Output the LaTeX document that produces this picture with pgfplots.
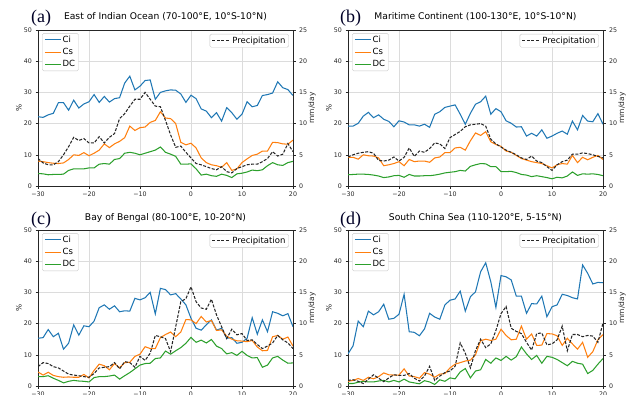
\documentclass[border=0pt]{standalone}
\usepackage{fontspec}
\setmainfont{DejaVu Sans}
\newfontfamily\serifpanel{Liberation Serif}
\usepackage{pgfplots}
\usepackage{pgfplotstable}
\pgfplotsset{compat=1.18}
\definecolor{mplblue}{HTML}{1F77B4}
\definecolor{mplorange}{HTML}{FF7F0E}
\definecolor{mplgreen}{HTML}{2CA02C}
\definecolor{gridc}{HTML}{DCDCDC}
\definecolor{tickc}{HTML}{262626}

\pgfplotstableread{
x ci cs dc pr
-30 22.2 8.0 4.0 4.4
-29 22.0 7.8 3.9 3.7
-28 22.8 7.5 3.6 3.4
-27 23.3 7.3 3.7 3.4
-26 26.7 7.2 3.7 3.9
-25 26.7 7.4 3.8 5.0
-24 24.3 8.5 5.0 6.3
-23 27.5 10.0 5.5 7.8
-22 25.0 9.8 5.5 7.3
-21 26.3 10.7 5.5 7.6
-20 27.0 9.7 5.8 6.9
-19 29.3 10.5 5.8 6.9
-18 26.8 11.5 7.0 7.9
-17 28.7 13.5 7.2 6.9
-16 26.9 12.3 7.0 7.8
-15 28.0 13.5 8.5 8.4
-14 28.3 14.3 8.8 10.8
-13 33.0 15.5 10.5 11.6
-12 35.2 19.2 10.8 12.8
-11 30.8 17.8 10.5 13.9
-10 32.0 18.7 10.0 13.9
-9 33.8 18.9 10.5 15.0
-8 34.0 20.4 11.0 13.9
-7 27.8 21.0 11.5 12.8
-6 30.0 23.8 12.5 12.7
-5 30.5 21.8 10.8 10.5
-4 30.8 21.6 10.2 8.2
-3 30.7 20.0 9.5 6.2
-2 29.5 14.0 7.0 6.4
-1 26.8 13.2 7.0 5.4
0 29.1 13.7 7.1 4.5
1 28.0 12.2 5.5 3.6
2 24.7 9.0 3.5 3.4
3 24.0 7.5 3.8 3.1
4 21.9 6.8 3.3 2.8
5 23.5 6.5 3.1 2.6
6 20.8 6.0 3.8 3.1
7 25.1 7.5 3.4 2.3
8 23.5 5.0 2.7 2.1
9 21.4 5.5 3.9 2.8
10 23.0 7.5 4.1 3.1
11 27.0 8.7 4.5 3.4
12 25.4 9.8 5.1 3.5
13 25.8 10.2 4.9 3.5
14 29.0 11.2 5.2 3.9
15 29.3 11.2 6.5 4.4
16 29.8 14.0 7.5 5.5
17 33.4 13.9 6.8 4.8
18 31.5 13.5 6.6 5.1
19 30.9 13.4 7.5 6.8
20 29.0 14.7 7.9 5.5
}\tabA

\pgfplotstableread{
x ci cs dc pr
-30 19.2 9.2 3.6 4.65
-29 19.2 9.2 3.7 5.0
-28 20.1 8.6 3.8 5.25
-27 22.4 10.0 3.8 5.4
-26 23.6 9.7 3.7 5.5
-25 21.9 9.6 3.5 5.25
-24 22.8 9.0 3.2 4.1
-23 21.4 6.5 2.7 4.0
-22 20.7 6.8 2.9 4.15
-21 19.0 7.2 3.3 4.65
-20 20.9 7.8 3.4 4.0
-19 20.5 6.5 2.8 4.6
-18 19.6 8.5 3.7 6.1
-17 19.6 7.8 3.2 4.75
-16 19.2 8.0 3.2 5.6
-15 19.8 8.0 3.3 5.4
-14 18.8 7.6 3.3 6.0
-13 23.0 9.0 3.5 6.9
-12 23.8 9.3 3.8 6.75
-11 25.2 10.7 4.2 6.0
-10 25.6 10.7 4.4 7.75
-9 26.0 12.2 4.6 8.25
-8 23.0 12.4 5.0 8.75
-7 19.8 11.5 4.8 9.5
-6 23.3 14.5 6.3 9.8
-5 26.2 17.0 6.8 9.9
-4 27.0 16.2 7.2 10.0
-3 28.8 17.4 7.1 9.6
-2 23.0 14.2 6.2 7.5
-1 24.8 13.3 6.2 6.75
0 23.8 12.7 4.6 6.25
1 20.9 11.2 4.6 5.75
2 20.1 10.8 4.7 5.4
3 18.9 9.8 4.3 5.0
4 19.0 8.8 3.7 4.5
5 16.0 8.3 3.5 4.25
6 16.9 7.8 3.0 4.8
7 16.0 7.5 3.3 4.0
8 18.0 7.2 3.0 3.75
9 15.3 6.5 2.7 3.1
10 16.0 5.8 2.3 2.5
11 16.9 6.8 2.8 3.4
12 17.6 7.2 2.6 3.9
13 16.6 7.0 3.2 4.15
14 20.8 9.8 4.5 5.1
15 18.0 7.5 3.4 5.1
16 22.6 9.2 3.9 5.3
17 20.8 8.4 3.8 5.2
18 20.6 9.2 3.9 5.0
19 23.2 9.8 3.7 4.75
20 19.8 8.5 3.3 4.5
}\tabB

\pgfplotstableread{
x ci cs dc pr
-30 15.3 4.5 3.0 3.1
-29 15.5 3.5 3.0 3.75
-28 18.1 4.4 3.3 3.6
-27 15.8 3.4 2.5 3.1
-26 16.9 3.0 1.8 2.9
-25 11.8 2.8 1.0 2.4
-24 13.7 2.9 1.5 1.9
-23 19.6 2.8 1.8 1.75
-22 16.3 2.8 1.6 1.65
-21 19.3 3.7 1.5 1.5
-20 19.0 2.6 1.3 1.4
-19 20.8 5.0 2.7 2.0
-18 25.1 7.0 3.0 2.9
-17 26.0 6.5 3.0 3.0
-16 24.6 5.2 3.2 3.1
-15 25.7 7.2 3.5 3.75
-14 23.8 5.8 2.2 2.75
-13 24.1 7.5 3.3 3.9
-12 24.0 7.6 4.3 3.75
-11 28.1 9.5 5.5 3.0
-10 27.6 10.2 6.7 4.75
-9 28.3 12.6 7.2 4.1
-8 30.0 12.0 7.3 5.25
-7 23.1 12.0 8.8 8.1
-6 31.3 15.5 9.0 7.9
-5 30.9 16.5 11.2 7.6
-4 29.2 17.3 10.2 5.5
-3 29.6 15.8 11.3 9.5
-2 27.9 17.3 12.3 13.5
-1 26.0 21.3 13.7 14.0
0 21.7 21.2 15.6 15.9
1 18.5 20.0 14.0 13.5
2 17.9 22.3 14.7 12.5
3 19.6 20.5 13.8 12.3
4 21.2 21.0 14.9 13.9
5 17.9 17.8 12.8 11.4
6 18.5 18.0 12.0 9.5
7 15.3 16.0 10.3 7.6
8 15.5 15.0 10.7 9.1
9 13.7 14.5 9.8 8.2
10 14.0 14.4 11.1 8.4
11 15.3 14.2 9.8 7.3
12 21.9 14.6 9.0 7.4
13 16.6 12.5 9.1 6.65
14 21.2 11.3 6.0 6.0
15 17.4 11.4 6.7 6.4
16 23.8 15.8 9.0 6.9
17 23.3 16.2 9.5 8.1
18 22.5 15.0 8.3 7.4
19 23.2 15.7 7.3 6.9
20 19.0 12.8 7.4 6.0
}\tabC

\pgfplotstableread{
x ci cs dc pr
-30 10.3 1.5 0.8 0.9
-29 12.9 1.8 0.8 1.0
-28 20.8 2.4 1.2 0.75
-27 19.0 1.8 1.5 0.4
-26 24.0 2.8 1.3 1.1
-25 22.8 2.3 1.3 1.8
-24 23.8 3.0 1.6 1.25
-23 26.2 4.2 1.8 0.7
-22 21.4 3.6 1.3 1.3
-21 21.7 3.5 1.8 1.8
-20 23.0 3.5 1.3 1.7
-19 29.4 5.5 2.2 1.7
-18 17.4 3.2 1.3 2.0
-17 17.2 3.0 1.0 1.25
-16 16.1 2.5 0.7 0.8
-15 18.3 4.3 1.7 1.6
-14 23.3 3.8 1.3 3.15
-13 22.1 2.8 0.5 0.9
-12 21.4 3.8 2.0 1.6
-11 26.0 4.0 1.5 2.15
-10 27.5 5.8 2.6 2.4
-9 27.9 7.0 2.3 3.15
-8 30.4 7.5 4.5 6.9
-7 24.0 8.0 5.6 5.25
-6 28.6 8.3 2.6 2.9
-5 30.2 10.0 4.8 5.7
-4 36.6 14.5 5.2 7.5
-3 39.5 15.0 8.5 6.15
-2 33.4 14.6 7.3 6.75
-1 25.2 15.0 9.0 8.9
0 35.4 18.2 8.2 11.6
1 35.0 16.2 9.5 12.75
2 34.0 14.8 8.3 9.25
3 28.8 15.0 9.4 8.75
4 28.8 19.2 12.5 8.4
5 23.3 15.0 10.3 7.0
6 26.4 16.7 8.5 5.75
7 26.3 13.0 9.8 8.4
8 28.8 13.1 7.3 8.5
9 22.2 16.8 9.5 6.6
10 25.4 16.7 9.2 6.75
11 26.0 16.1 8.5 7.4
12 29.4 13.0 7.5 9.6
13 29.0 15.3 6.5 5.65
14 28.3 13.5 7.9 8.25
15 27.9 11.8 7.3 8.25
16 38.8 14.0 7.0 7.9
17 36.1 9.2 4.0 8.1
18 32.7 11.0 5.0 8.0
19 33.2 14.8 7.0 7.0
20 33.1 16.5 8.8 10.1
}\tabD

\pgfplotsset{
  common/.style={
    scale only axis, width=255pt, height=156pt,
    anchor=south west,
    xmin=-30, xmax=20,
    tick label style={font=\fontsize{6.3}{7}\selectfont, text=tickc},
    tick align=outside, major tick length=2.5pt,
    tick style={black!85, line width=0.5pt},
    axis line style={black!85, line width=0.6pt},
    legend style={font=\fontsize{8.5}{9.5}\selectfont, draw=black!22, fill=white,
      rounded corners=1.5pt, inner xsep=2pt, inner ysep=1.5pt, row sep=2pt,
      nodes={text height=6.3pt, text depth=1.3pt, inner sep=1.3pt}},
    legend cell align=left,
  },
  leftax/.style={
    common,
    ymin=0, ymax=50,
    xtick={-30,-20,-10,0,10,20},
    xticklabels={−30,−20,−10,0,10,20},
    ytick={0,10,20,30,40,50},
    yticklabels={0,10,20,30,40,50},
    xtick pos=bottom, ytick pos=left,
    grid=major, major grid style={gridc, line width=0.6pt},
    ylabel={\%},
    every axis y label/.style={at={(axis description cs:0,0.5)}, xshift=-19pt,
      rotate=90, anchor=center, font=\fontsize{7.5}{8}\selectfont, text=tickc},
    title style={font=\fontsize{9.2}{10}\selectfont, at={(axis description cs:0.5,1)},
      anchor=base, yshift=4pt},
    legend style={at={(0.016,0.98)}, anchor=north west},
    legend image code/.code={\draw[##1, line width=1.1pt] (0pt,0pt) -- (16pt,0pt);},
    every axis plot/.append style={line width=1.05pt},
  },
  rightax/.style={
    common,
    ymin=0, ymax=25,
    axis y line*=right, axis x line=none,
    ytick={0,5,10,15,20,25},
    yticklabels={0,5,10,15,20,25},
    ylabel={mm/day},
    every axis y label/.style={at={(axis description cs:1,0.5)}, xshift=19pt,
      rotate=90, anchor=center, font=\fontsize{7.5}{8}\selectfont, text=tickc},
    legend style={at={(0.984,0.975)}, anchor=north east},
    legend image code/.code={\draw[##1, line width=1.1pt] (0pt,0pt) -- (18pt,0pt);},
    every axis plot/.append style={line width=1.05pt},
  },
}

\begin{document}
\begin{tikzpicture}
\useasboundingbox (0pt,0pt) rectangle (628pt,394pt);
\clip (0pt,0pt) rectangle (628pt,394pt);

% ---------- (a)
\begin{axis}[leftax, at={(38pt,208pt)}, title={East of Indian Ocean (70-100°E, 10°S-10°N)}]
\addplot[mplblue] table[x=x,y=ci]{\tabA}; \addlegendentry{Ci}
\addplot[mplorange] table[x=x,y=cs]{\tabA}; \addlegendentry{Cs}
\addplot[mplgreen] table[x=x,y=dc]{\tabA}; \addlegendentry{DC}
\end{axis}
\begin{axis}[rightax, at={(38pt,208pt)}]
\addplot[black!85, dash pattern=on 3pt off 1.5pt] table[x=x,y=pr]{\tabA}; \addlegendentry{Precipitation}
\end{axis}

% ---------- (b)
\begin{axis}[leftax, at={(348pt,208pt)}, title={Maritime Continent (100-130°E, 10°S-10°N)}]
\addplot[mplblue] table[x=x,y=ci]{\tabB}; \addlegendentry{Ci}
\addplot[mplorange] table[x=x,y=cs]{\tabB}; \addlegendentry{Cs}
\addplot[mplgreen] table[x=x,y=dc]{\tabB}; \addlegendentry{DC}
\end{axis}
\begin{axis}[rightax, at={(348pt,208pt)}]
\addplot[black!85, dash pattern=on 3pt off 1.5pt] table[x=x,y=pr]{\tabB}; \addlegendentry{Precipitation}
\end{axis}

% ---------- (c)
\begin{axis}[leftax, at={(38pt,8pt)}, title={Bay of Bengal (80-100°E, 10-20°N)}]
\addplot[mplblue] table[x=x,y=ci]{\tabC}; \addlegendentry{Ci}
\addplot[mplorange] table[x=x,y=cs]{\tabC}; \addlegendentry{Cs}
\addplot[mplgreen] table[x=x,y=dc]{\tabC}; \addlegendentry{DC}
\end{axis}
\begin{axis}[rightax, at={(38pt,8pt)}]
\addplot[black!85, dash pattern=on 3pt off 1.5pt] table[x=x,y=pr]{\tabC}; \addlegendentry{Precipitation}
\end{axis}

% ---------- (d)
\begin{axis}[leftax, at={(348pt,8pt)}, title={South China Sea (110-120°E, 5-15°N)}]
\addplot[mplblue] table[x=x,y=ci]{\tabD}; \addlegendentry{Ci}
\addplot[mplorange] table[x=x,y=cs]{\tabD}; \addlegendentry{Cs}
\addplot[mplgreen] table[x=x,y=dc]{\tabD}; \addlegendentry{DC}
\end{axis}
\begin{axis}[rightax, at={(348pt,8pt)}]
\addplot[black!85, dash pattern=on 3pt off 1.5pt] table[x=x,y=pr]{\tabD}; \addlegendentry{Precipitation}
\end{axis}

% panel letters
\node[anchor=base west, inner sep=0pt, font=\serifpanel\fontsize{18}{18}\selectfont, text=black!85!blue] at (31pt,371pt) {(a)};
\node[anchor=base west, inner sep=0pt, font=\serifpanel\fontsize{18}{18}\selectfont, text=black!85!blue] at (340pt,371pt) {(b)};
\node[anchor=base west, inner sep=0pt, font=\serifpanel\fontsize{18}{18}\selectfont, text=black!85!blue] at (31pt,170pt) {(c)};
\node[anchor=base west, inner sep=0pt, font=\serifpanel\fontsize{18}{18}\selectfont, text=black!85!blue] at (340pt,170pt) {(d)};
\end{tikzpicture}
\end{document}
